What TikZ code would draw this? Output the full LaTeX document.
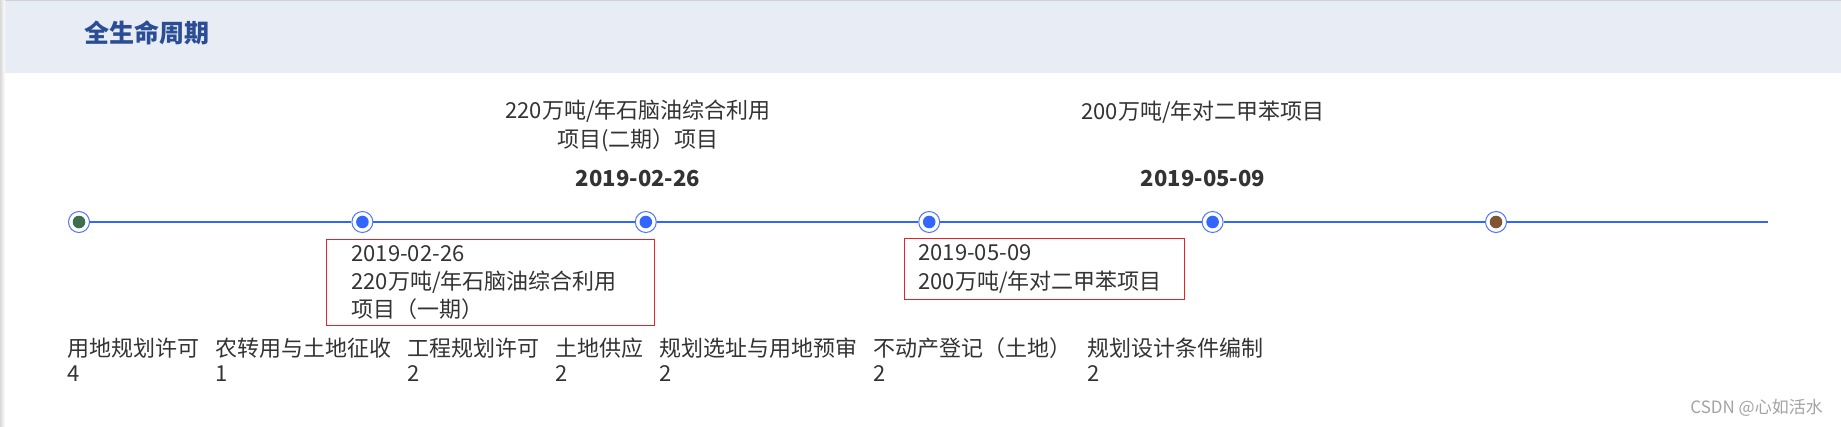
\documentclass[tikz,border=0pt]{standalone}
\usepackage{fontspec}
\setmainfont{Noto Sans CJK SC}
\usetikzlibrary{positioning}

\definecolor{hdrbg}{HTML}{E8ECF5}
\definecolor{hdrtxt}{HTML}{2B4D96}
\definecolor{lineblue}{HTML}{3366FF}
\definecolor{ringblue}{HTML}{4D74FF}
\definecolor{txtgray}{HTML}{333333}
\definecolor{boxred}{HTML}{E6212A}
\definecolor{dotgreen}{HTML}{3D6E4E}
\definecolor{dotbrown}{HTML}{7F5536}
\definecolor{wmgray}{HTML}{A3A3A3}

\tikzset{
  evt/.style={circle, draw=ringblue, line width=1pt, fill=white,
    minimum size=21pt, inner sep=0pt,
    path picture={\fill[#1] (path picture bounding box.center) circle (6.3pt);}},
  timeline/.style={lineblue, line width=1.3pt},
  txt/.style={inner sep=0pt, text=txtgray, font=\fontsize{22}{28.3}\selectfont},
  datelbl/.style={txt, font=\fontsize{22}{26}\selectfont\bfseries},
  tipbox/.style={txt, draw=boxred, line width=1pt, align=left, anchor=north west},
  countlbl/.style={txt, font=\fontsize{22}{25}\selectfont, align=left},
}

\begin{document}
\begin{tikzpicture}[x=1pt, y=-1pt]
    \useasboundingbox (0,0) rectangle (1841,426);
    \fill[white] (0,0) rectangle (1841,426);
    \fill[hdrbg] (0,0) rectangle (1841,73);
    \draw[black!18] (0,0.5) -- (1841,0.5);
    \shade[left color=black!15, right color=white] (0,0) rectangle (5,426);

    \node[anchor=west, inner sep=0pt, text=hdrtxt, font=\fontsize{25}{30}\selectfont\bfseries] (title) at (84,33) {全生命周期};

    % timeline
    \foreach \c [count=\i from 0] in {dotgreen,lineblue,lineblue,lineblue,lineblue,dotbrown}
      \node[evt=\c] (d\i) at ({79+283.4*\i},222) {};
    \coordinate (lineend) at (1768,222);
    \draw[timeline] (d0) -- (d1) -- (d2) -- (d3) -- (d4) -- (d5) -- (lineend);

    \node[txt, align=center] (proj2) at (638,125.8) {220万吨/年石脑油综合利用\\项目(二期）项目};
    \node[datelbl] (date2) at (638,178.5) {2019-02-26};
    \node[txt] (proj4) at (1203,111.7) {200万吨/年对二甲苯项目};
    \node[datelbl] (date4) at (1203,179) {2019-05-09};

    \node[tipbox, minimum width=328pt, minimum height=86pt, inner xsep=25pt, text width=278pt] (tip1) at (326,239)
      {2019-02-26\\220万吨/年石脑油综合利用\\项目（一期）};
    \node[tipbox, minimum width=280pt, minimum height=61pt, inner xsep=14.4pt, text width=251.2pt] (tip2) at (903.6,238)
      {2019-05-09\\200万吨/年对二甲苯项目};

    % counts
    \node[countlbl, anchor=west] (c1) at (67.7,360) {用地规划许可\\4};
    \node[countlbl, right=15.5pt of c1] (c2) {农转用与土地征收\\1};
    \node[countlbl, right=15.5pt of c2] (c3) {工程规划许可\\2};
    \node[countlbl, right=15.5pt of c3] (c4) {土地供应\\2};
    \node[countlbl, right=15.5pt of c4] (c5) {规划选址与用地预审\\2};
    \node[countlbl, right=15.5pt of c5] (c6) {不动产登记（土地）\\2};
    \node[countlbl, right=15.5pt of c6] (c7) {规划设计条件编制\\2};

    \node[anchor=east, inner sep=0pt, text=wmgray, font=\fontsize{17}{20}\selectfont] (wm) at (1823,408) {CSDN @心如活水};
\end{tikzpicture}
\end{document}
